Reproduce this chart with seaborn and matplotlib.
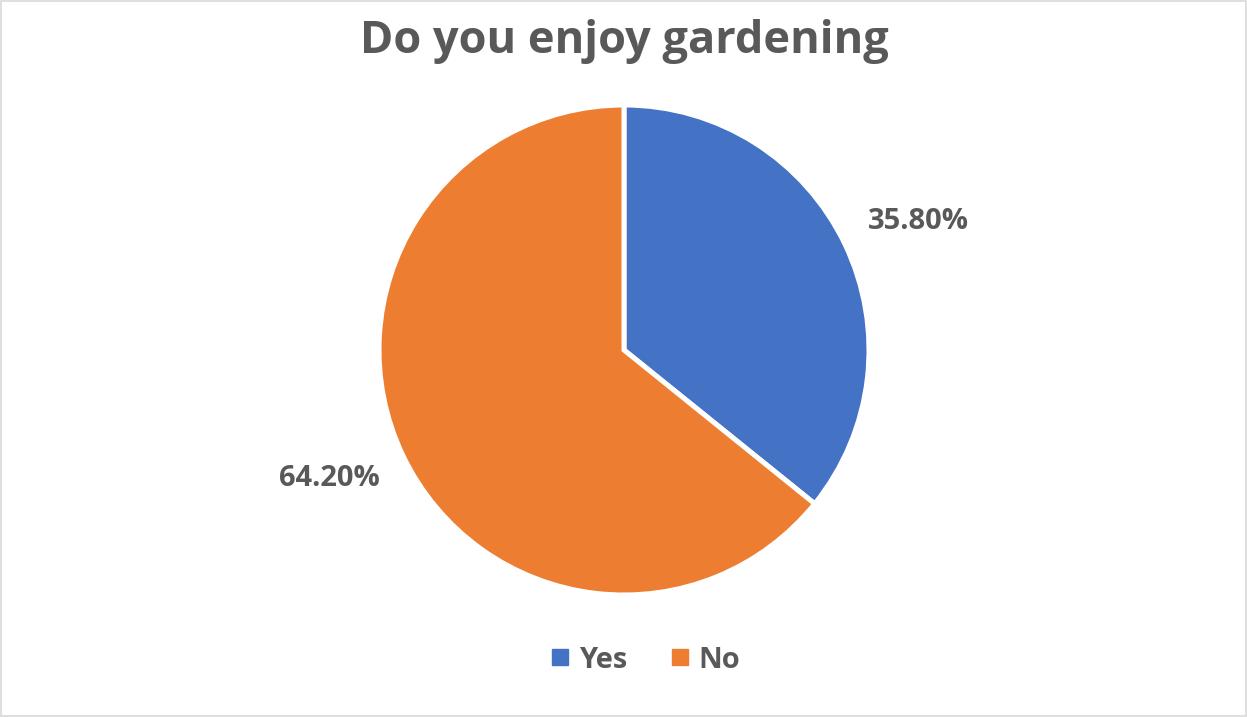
import matplotlib
matplotlib.use("Agg")
import numpy as np
import matplotlib.pyplot as plt
from matplotlib.lines import Line2D
from matplotlib.patches import Rectangle
import seaborn as sns

# Survey answers and their shares (percent)
answers = ["Yes", "No"]
shares = [35.80, 64.20]
slice_colors = ["#4472C4", "#ED7D31"]
title_text = "Do you enjoy gardening"

sns.set_theme(style="white")
plt.rcParams["font.family"] = ["Open Sans", "DejaVu Sans"]

W, H = 1247, 717
fig = plt.figure(figsize=(W / 100, H / 100), dpi=100)
fig.patch.set_facecolor("white")

# Thin grey frame around the chart area
fig.patches.append(Rectangle((0.001, 0.001), 0.998, 0.997, transform=fig.transFigure,
                             fill=False, edgecolor="#D9D9D9", linewidth=1.2))

# Pie axes: centre (624, 350) px, radius 245 px
cx, cy, r = 624, 350, 245
ax = fig.add_axes([(cx - r) / W, 1 - (cy + r) / H, 2 * r / W, 2 * r / H])

text_color = "#595959"
wedges, _, autotexts = ax.pie(
    shares,
    colors=slice_colors,
    startangle=90,
    counterclock=False,
    autopct=lambda p: f"{p:.2f}%",
    pctdistance=1.31,
    wedgeprops=dict(edgecolor="white", linewidth=3.6),
    textprops=dict(color=text_color, fontsize=21, fontweight="bold"),
)
# Place each value label just outside its slice, slightly clockwise of the mid-angle
for w, t in zip(wedges, autotexts):
    mid = np.deg2rad((w.theta1 + w.theta2) / 2 - 2.0)
    t.set_position((1.31 * np.cos(mid), 1.31 * np.sin(mid)))

ax.set_xlim(-1, 1)
ax.set_ylim(-1, 1)
ax.set_aspect("equal")
ax.axis("off")

fig.text(0.5004, 1 - 41 / H, title_text, ha="center", va="center",
         fontsize=32.5, fontweight="bold", color=text_color)

handles = [Line2D([], [], marker="s", linestyle="none", markersize=12,
                  markerfacecolor=c, markeredgecolor=c) for c in slice_colors]
leg = fig.legend(handles, answers, loc="center", bbox_to_anchor=(646 / W, 1 - 660 / H),
                 ncol=2, frameon=False, handlelength=0.6, handletextpad=0.35,
                 columnspacing=1.5, prop=dict(size=21, weight="bold"))
for t in leg.get_texts():
    t.set_color(text_color)

fig.savefig("out.png", dpi=100, facecolor="white")
